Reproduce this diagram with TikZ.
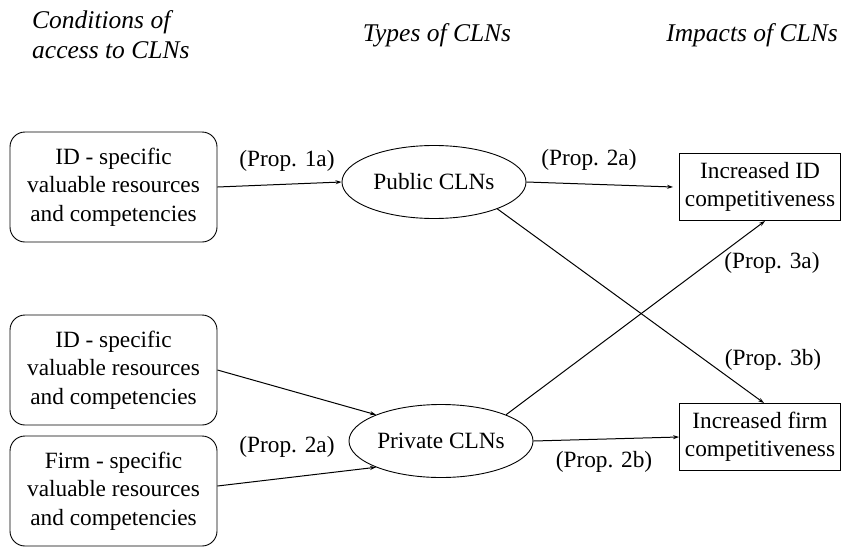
\documentclass[tikz,border=0pt]{standalone}
\usepackage{fontspec}
\setmainfont{Liberation Serif}
\usetikzlibrary{shapes.geometric,arrows.meta}
\begin{document}
\begin{tikzpicture}[x=1pt,y=-1pt,
    every node/.style={font=\fontsize{23.3}{28.5}\selectfont},
    head/.style={font=\fontsize{25.5}{30}\selectfont\itshape},
    access/.style={draw,rounded corners=15pt,minimum width=207pt,minimum height=110pt,align=center,inner sep=0pt},
    cln/.style={draw,ellipse,minimum width=184pt,minimum height=73pt,inner sep=0pt},
    impact/.style={draw,minimum width=161pt,minimum height=67pt,align=center,inner sep=0pt},
    prop/.style={inner sep=0pt}]
      \useasboundingbox (0,0) rectangle (842,551);
      \draw
        (32,35) node[head,anchor=west,align=left,inner sep=0pt] (h1){Conditions of\\access to CLNs}
        (437,35) node[head] (h2){Types of CLNs}
        (752,35) node[head] (h3){Impacts of CLNs}
        (113.5,187) node[access,line width=0.9pt] (a1){ID - specific\\valuable resources\\and competencies}
        (113.5,370) node[access,line width=0.9pt] (a2){ID - specific\\valuable resources\\and competencies}
        (113.5,491) node[access,line width=0.9pt] (a3){Firm - specific\\valuable resources\\and competencies}
        (434,182) node[cln,line width=0.9pt] (pub){Public CLNs}
        (441,441) node[cln,line width=0.9pt] (priv){Private CLNs}
        (760,187) node[impact,line width=0.9pt] (idc){Increased ID\\competitiveness}
        (760,437) node[impact,line width=0.9pt] (firmc){Increased firm\\competitiveness};
      \draw
        (287,161) node[prop] (p1a){(Prop. 1a)}
        (589,160) node[prop] (p2a){(Prop. 2a)}
        (772,263) node[prop] (p3a){(Prop. 3a)}
        (773,360) node[prop] (p3b){(Prop. 3b)}
        (287,447) node[prop] (p2aa){(Prop. 2a)}
        (604,462) node[prop] (p2b){(Prop. 2b)};
      \begin{scope}[->,>={Stealth[length=6pt,width=4pt]},line width=1pt]
        \draw (a1.east) to (pub.west);
        \draw (pub.east) to ([xshift=-6pt]idc.west);
        \draw (pub.-23) to ([xshift=4pt]firmc.north);
        \draw (priv.22) to ([xshift=5pt]idc.south);
        \draw (priv.east) to (firmc.west);
        \draw (a2.east) to (priv.158);
        \draw ([yshift=5pt]a3.east) to (priv.202);
      \end{scope}
    \end{tikzpicture}
\end{document}
